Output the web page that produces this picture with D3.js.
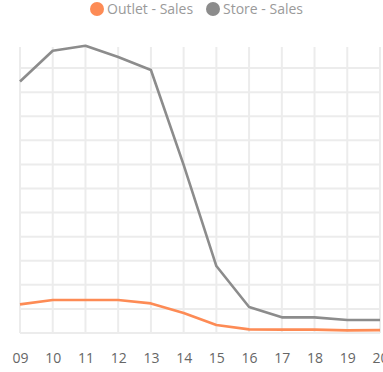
<!DOCTYPE html>
<html>
<head>
<meta charset="utf-8">
<script src="https://cdn.jsdelivr.net/npm/d3@7"></script>
<style>
  html, body { margin: 0; padding: 0; background: #fff; }
  svg { display: block; }
  text { font-family: "Open Sans", "Noto Sans", sans-serif; }
</style>
</head>
<body>
<svg id="chart" width="383" height="372"></svg>
<script>
// Hourly sales by channel
const hours = ["09", "10", "11", "12", "13", "14", "15", "16", "17", "18", "19", "20"];
const outletSales = [119, 137, 137, 137, 123, 83, 33, 15, 14, 14, 11, 12];
const storeSales = [1044, 1172, 1193, 1146, 1092, 698, 278, 108, 65, 65, 54, 54];
const gridTicks = [0, 100, 200, 300, 400, 500, 600, 700, 800, 900, 1000, 1100];

const series = [
  { name: "Outlet - Sales", values: outletSales, color: "#fd8b55" },
  { name: "Store - Sales", values: storeSales, color: "#8c8c8c" }
];

const svg = d3.select("#chart");
const W = 383, H = 372;
const margin = { top: 44, right: 3, bottom: 39, left: 20 };

const x = d3.scalePoint()
  .domain(hours)
  .range([margin.left, W - margin.right]);

const y = d3.scaleLinear()
  .domain([0, 1200])
  .range([H - margin.bottom, margin.top]);

// Grid
const grid = svg.append("g").attr("stroke", "#ececec").attr("stroke-width", 2);
grid.selectAll("line.h")
  .data(gridTicks)
  .join("line")
  .attr("class", "h")
  .attr("x1", margin.left).attr("x2", W - margin.right)
  .attr("y1", d => y(d)).attr("y2", d => y(d));
grid.selectAll("line.v")
  .data(hours)
  .join("line")
  .attr("class", "v")
  .attr("x1", d => x(d)).attr("x2", d => x(d))
  .attr("y1", y(1200) + 3).attr("y2", y(0));

// X axis labels (the last one runs past the right edge of the view)
const xAxis = svg.append("g")
  .attr("transform", `translate(0,${y(0)})`)
  .call(d3.axisBottom(x).tickSize(0).tickPadding(20));
xAxis.select(".domain").remove();
xAxis.selectAll("text")
  .attr("fill", "#666")
  .style("font-size", "14px");

// Lines
const line = d3.line()
  .x((d, i) => x(hours[i]))
  .y(d => y(d));

svg.append("g").selectAll("path")
  .data(series.slice().reverse())
  .join("path")
  .attr("fill", "none")
  .attr("stroke", d => d.color)
  .attr("stroke-width", 2.6)
  .attr("stroke-linejoin", "round")
  .attr("d", d => line(d.values));

// Legend
const legend = svg.append("g").attr("transform", "translate(97,9)");
const items = legend.selectAll("g")
  .data(series)
  .join("g")
  .attr("transform", (d, i) => `translate(${i * 116},0)`);
items.append("circle")
  .attr("r", 7)
  .attr("fill", d => d.color);
items.append("text")
  .attr("x", 10)
  .attr("dy", "0.35em")
  .attr("fill", "#9a9a9a")
  .style("font-size", "14px")
  .text(d => d.name);
</script>
</body>
</html>
